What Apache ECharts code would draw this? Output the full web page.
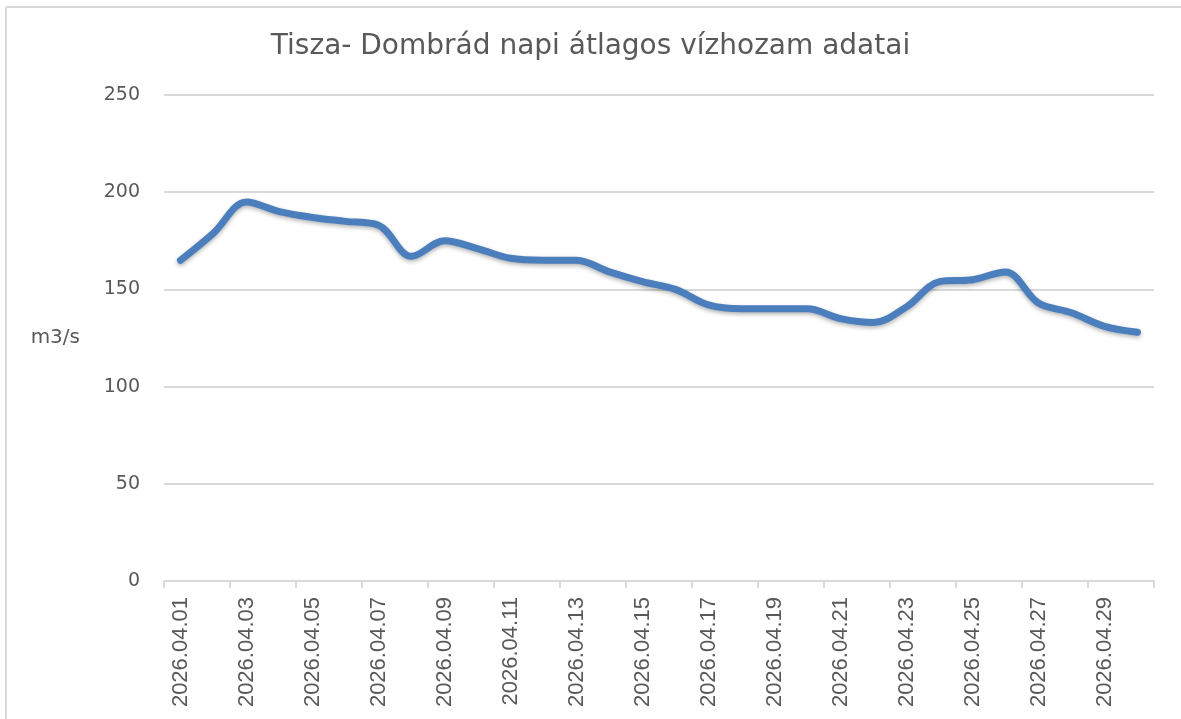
<!DOCTYPE html>
<html>
<head>
<meta charset="utf-8">
<script src="https://cdn.jsdelivr.net/npm/echarts@6/dist/echarts.min.js"></script>
<style>
  html, body { margin: 0; padding: 0; background: #fff; }
  #chart { width: 1181px; height: 719px; }
</style>
</head>
<body>
<div id="chart"></div>
<script>
// napi adatok, 2026 április
const days = [
  '2026.04.01', '2026.04.02', '2026.04.03', '2026.04.04', '2026.04.05',
  '2026.04.06', '2026.04.07', '2026.04.08', '2026.04.09', '2026.04.10',
  '2026.04.11', '2026.04.12', '2026.04.13', '2026.04.14', '2026.04.15',
  '2026.04.16', '2026.04.17', '2026.04.18', '2026.04.19', '2026.04.20',
  '2026.04.21', '2026.04.22', '2026.04.23', '2026.04.24', '2026.04.25',
  '2026.04.26', '2026.04.27', '2026.04.28', '2026.04.29', '2026.04.30'
];
const flow = [
  165, 179, 195, 190, 187, 185, 183, 167, 175, 171,
  166, 165, 165, 159, 154, 150, 142, 140, 140, 140,
  135, 133, 141, 154, 155, 159, 143, 138, 131, 128
];
const yTicks = { min: 0, max: 250, step: 50 };

const chart = echarts.init(document.getElementById('chart'));
const grey = '#595959';
const border = { stroke: '#d9d9d9', lineWidth: 2 };

const option = {
  animation: false,
  title: {
    text: 'Tisza- Dombrád napi átlagos vízhozam adatai',
    left: 'center',
    top: 28,
    textStyle: { fontFamily: 'DejaVu Sans', fontWeight: 'normal', fontSize: 28, color: grey }
  },
  graphic: [
    { type: 'line', silent: true, shape: { x1: 6, y1: 7, x2: 1181, y2: 7 }, style: border },
    { type: 'line', silent: true, shape: { x1: 6, y1: 7, x2: 6, y2: 719 }, style: border }
  ],
  grid: { left: 164, right: 27, top: 95, bottom: 138 },
  xAxis: {
    type: 'category',
    data: days,
    boundaryGap: true,
    axisLine: { lineStyle: { color: '#d9d9d9', width: 2 } },
    axisTick: { show: true, interval: 1, length: 7, lineStyle: { color: '#d9d9d9', width: 2 } },
    axisLabel: {
      interval: 1,
      rotate: 90,
      margin: 16,
      color: grey,
      fontFamily: 'Liberation Sans',
      fontSize: 22
    }
  },
  yAxis: {
    type: 'value',
    min: yTicks.min,
    max: yTicks.max,
    interval: yTicks.step,
    name: 'm3/s',
    nameLocation: 'middle',
    nameRotate: 0,
    nameGap: 84,
    nameTextStyle: { color: grey, fontFamily: 'DejaVu Sans', fontSize: 20 },
    axisLine: { show: false },
    axisTick: { show: false },
    axisLabel: { margin: 24, color: grey, fontFamily: 'DejaVu Sans', fontSize: 19 },
    splitLine: { lineStyle: { color: '#d9d9d9', width: 2 } }
  },
  series: [{
    type: 'line',
    data: flow,
    smooth: 0.35,
    symbol: 'none',
    lineStyle: {
      color: '#4a7ebd',
      width: 7,
      cap: 'round',
      shadowColor: 'rgba(0,0,0,0.3)',
      shadowBlur: 4,
      shadowOffsetY: 2
    }
  }]
};
chart.setOption(option);
</script>
</body>
</html>
